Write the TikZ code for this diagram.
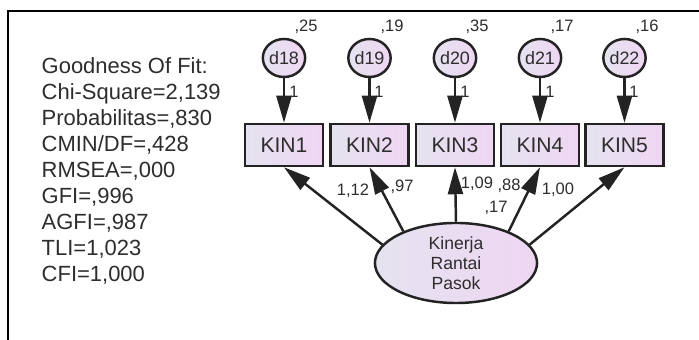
\documentclass[tikz,border=0pt]{standalone}
\usepackage{fontspec}
\setmainfont{Liberation Sans}
\usetikzlibrary{arrows.meta,shapes.geometric}

\definecolor{shadeleft}{RGB}{229,227,239}
\definecolor{shaderight}{RGB}{239,214,243}
\definecolor{edgegray}{RGB}{35,35,35}
\definecolor{inkgray}{RGB}{45,45,45}

\begin{document}
\begin{tikzpicture}[x=0.01cm,y=-0.01cm,
    obsbox/.style={draw=edgegray, line width=0.7pt, left color=shadeleft, right color=shaderight,
        minimum width=0.78cm, minimum height=0.42cm, inner sep=0pt, text=inkgray,
        font=\fontsize{6}{6}\selectfont},
    errvar/.style={ellipse, draw=edgegray, line width=0.7pt, left color=shadeleft, right color=shaderight,
        minimum width=0.40cm, minimum height=0.38cm, inner sep=0pt, text=inkgray,
        font=\fontsize{5.1}{5.1}\selectfont},
    latvar/.style={ellipse, draw=edgegray, line width=0.7pt, left color=shadeleft, right color=shaderight,
        minimum width=1.62cm, minimum height=0.80cm, inner sep=0pt, align=center, text=inkgray,
        font=\fontsize{5}{5.7}\selectfont},
    est/.style={inner sep=0pt, text=inkgray, font=\fontsize{4.7}{4.7}\selectfont},
    arr/.style={draw=edgegray, line width=0.7pt, -{Triangle[length=0.27cm,width=0.15cm]}}]
    \useasboundingbox (0,0) rectangle (699,340);

    %frame
    \draw[line width=0.75pt] (8,340) -- (8,11) -- (699,11);

    %fit indices
    \node[anchor=north west, align=left, inner sep=0pt, text=inkgray, font=\fontsize{6.25}{7.4}\selectfont] (gof) at (41,57)
        {Goodness Of Fit:\\Chi-Square=2,139\\Probabilitas=,830\\CMIN/DF=,428\\RMSEA=,000\\GFI=,996\\AGFI=,987\\TLI=1,023\\CFI=1,000};

    %errors
    \node[errvar] (d18) at (284,58) {d18};
    \node[errvar] (d19) at (369.5,58) {d19};
    \node[errvar] (d20) at (455,58) {d20};
    \node[errvar] (d21) at (540,58) {d21};
    \node[errvar] (d22) at (624.5,58) {d22};

    %indicators
    \node[obsbox] (kin1) at (284,145) {KIN1};
    \node[obsbox] (kin2) at (369.5,145) {KIN2};
    \node[obsbox] (kin3) at (455,145) {KIN3};
    \node[obsbox] (kin4) at (540,145) {KIN4};
    \node[obsbox] (kin5) at (624.5,145) {KIN5};

    %latent
    \node[latvar] (krp) at (456,263) {Kinerja\\Rantai\\Pasok};

    %arrows
    \draw[arr] (d18) -- (kin1);
    \draw[arr] (d19) -- (kin2);
    \draw[arr] (d20) -- (kin3);
    \draw[arr] (d21) -- (kin4);
    \draw[arr] (d22) -- (kin5);
    \draw[arr] (krp.166) -- (kin1.south);
    \draw[arr] (krp.149) -- (kin2.south);
    \draw[arr] (krp.90) -- (kin3.south);
    \draw[arr] (krp.31) -- (kin4.south);
    \draw[arr] (krp.14) -- (kin5.south);

    %labels
    \node[est] (v18) at (306,27) {,25};
    \node[est] (v19) at (392,27) {,19};
    \node[est] (v20) at (477,27) {,35};
    \node[est] (v21) at (562,27) {,17};
    \node[est] (v22) at (647,27) {,16};
    \node[est] (w18) at (294,92) {1};
    \node[est] (w19) at (379,92) {1};
    \node[est] (w20) at (465,92) {1};
    \node[est] (w21) at (550,92) {1};
    \node[est] (w22) at (634,92) {1};
    \node[est] (l1) at (353,191) {1,12};
    \node[est] (l2) at (402,187) {,97};
    \node[est] (l3) at (477,184) {1,09};
    \node[est] (l4) at (509,186) {,88};
    \node[est] (vk) at (496,208) {,17};
    \node[est] (l5) at (558,190) {1,00};
\end{tikzpicture}
\end{document}
